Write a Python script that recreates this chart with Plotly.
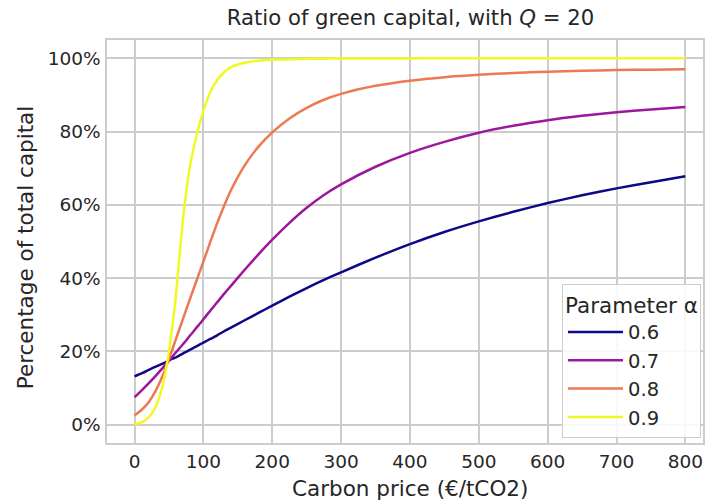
import plotly.graph_objects as go

carbon_price = [0, 10, 20, 30, 40, 50, 55, 60, 65, 70, 75, 80, 85, 90, 95, 100,
                110, 120, 130, 140, 160, 180, 200, 225, 250, 275, 300,
                350, 400, 450, 500, 550, 600, 650, 700, 750, 800]

alpha_labels = ["0.6", "0.7", "0.8", "0.9"]

share_a06 = [13.2, 14.0, 14.9, 15.8, 16.6, 17.5, 18.0, 18.4, 18.9, 19.4, 19.9, 20.4, 20.9, 21.4, 21.9, 22.4,
             23.4, 24.4, 25.5, 26.5, 28.5, 30.5, 32.5, 34.95, 37.3, 39.5, 41.6,
             45.6, 49.3, 52.6, 55.5, 58.1, 60.5, 62.6, 64.5, 66.2, 67.8]
share_a07 = [7.5, 9.3, 11.2, 13.2, 15.3, 17.5, 18.6, 19.7, 20.8, 21.9, 23.0, 24.2, 25.3, 26.5, 27.6, 28.8,
             31.1, 33.4, 35.7, 37.9, 42.3, 46.5, 50.5, 55.1, 59.2, 62.7, 65.6,
             70.4, 74.2, 77.2, 79.7, 81.6, 83.1, 84.3, 85.3, 86.05, 86.7]
share_a08 = [2.5, 4.0, 6.0, 9.0, 13.0, 18.0, 20.6, 23.3, 26.0, 28.7, 31.4, 34.0, 36.7, 39.3, 41.9, 44.5,
             49.9, 55.0, 59.7, 64.0, 70.8, 75.9, 79.8, 83.6, 86.5, 88.7, 90.3,
             92.5, 93.9, 94.85, 95.5, 96.0, 96.35, 96.6, 96.8, 96.9, 97.0]
share_a09 = [0.2, 0.6, 1.9, 4.6, 10.0, 20.0, 27.0, 35.0, 45.5, 55.5, 63.5, 70.0, 74.8, 78.8, 82.5, 85.7,
             90.8, 94.0, 96.2, 97.6, 98.8, 99.35, 99.6, 99.75, 99.85, 99.9, 99.93,
             99.96, 99.98, 100.0, 100.0, 100.0, 100.0, 100.0, 100.0, 100.0, 100.0]

series = [share_a06, share_a07, share_a08, share_a09]
colors = ["#0d0887", "#9c179e", "#ed7953", "#f0f921"]

TEXT = "#262626"
GRID = "#cccccc"
FONT = "DejaVu Sans"

fig = go.Figure()
for lab, vals, col in zip(alpha_labels, series, colors):
    fig.add_trace(go.Scatter(
        x=carbon_price, y=[v / 100 for v in vals], mode="lines", name=lab,
        line=dict(color=col, width=2.5, shape="spline", smoothing=0.6),
    ))

fig.update_layout(
    width=705, height=500,
    margin=dict(l=107, r=0, t=40, b=57),
    paper_bgcolor="white", plot_bgcolor="white",
    font=dict(family=FONT, size=18.5, color=TEXT),
    title=dict(text="Ratio of green capital, with <i>Q</i> = 20", xref="container",
               x=410.5 / 705, xanchor="center", y=1 - 18 / 500, yanchor="middle",
               font=dict(size=21.2, color=TEXT)),
    showlegend=True,
    legend=dict(
        title=dict(text="Parameter α", font=dict(size=21.5, color=TEXT), side="top center"),
        x=0.9967, xanchor="right", y=0.013, yanchor="bottom",
        bgcolor="rgba(255,255,255,0.85)", bordercolor=GRID, borderwidth=1,
        font=dict(size=19.5, color=TEXT), itemwidth=55,
    ),
)

fig.update_xaxes(
    range=[-40, 825.6], tickvals=[0, 100, 200, 300, 400, 500, 600, 700, 800],
    showgrid=True, gridcolor=GRID, gridwidth=1.5, zeroline=False,
    showline=True, linecolor=GRID, linewidth=1.5, mirror=True,
    ticks="outside", ticklen=1, tickcolor="rgba(0,0,0,0)",
    tickfont=dict(size=18.5, color=TEXT),
)
fig.update_yaxes(
    range=[-0.05, 1.05], tickvals=[0, 0.2, 0.4, 0.6, 0.8, 1.0], tickformat=".0%",
    showgrid=True, gridcolor=GRID, gridwidth=1.5, zeroline=False,
    showline=True, linecolor=GRID, linewidth=1.5, mirror=True,
    ticks="outside", ticklen=1, tickcolor="rgba(0,0,0,0)",
    tickfont=dict(size=18.5, color=TEXT),
)

fig.add_annotation(text="Carbon price (€/tCO2)", xref="paper", yref="paper",
                   x=(411 - 107) / 598, y=-(488 - 443) / 403, xanchor="center", yanchor="middle",
                   showarrow=False, font=dict(size=21.5, color=TEXT))
fig.add_annotation(text="Percentage of total capital", xref="paper", yref="paper",
                   x=-(107 - 25) / 598, y=(443 - 247) / 403, xanchor="center", yanchor="middle",
                   textangle=-90, showarrow=False, font=dict(size=21.5, color=TEXT))

fig.write_html("out.html")
